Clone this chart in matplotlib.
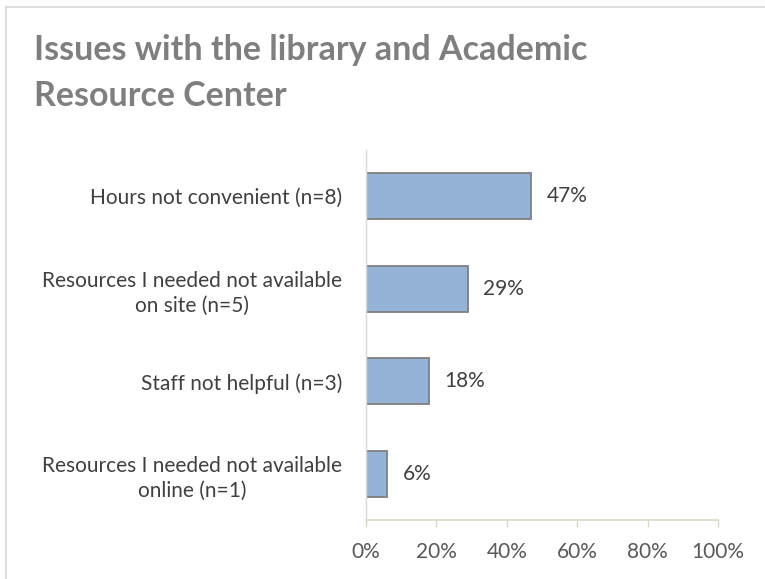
import matplotlib
matplotlib.use("Agg")
import matplotlib.pyplot as plt
from matplotlib.lines import Line2D

categories = [
    "Hours not convenient (n=8)",
    "Resources I needed not available\non site (n=5)",
    "Staff not helpful (n=3)",
    "Resources I needed not available\nonline (n=1)",
]
values = [0.47, 0.29, 0.18, 0.06]
value_labels = ["47%", "29%", "18%", "6%"]
xticks = [0, 0.2, 0.4, 0.6, 0.8, 1.0]
xtick_labels = ["0%", "20%", "40%", "60%", "80%", "100%"]
title_lines = ["Issues with the library and Academic", "Resource Center"]

FONT = "Lato"
plt.rcParams['font.family'] = [FONT, 'DejaVu Sans']

fig = plt.figure(figsize=(7.65, 5.79), dpi=100)
W, H = 765, 579
ax = fig.add_axes([366 / W, 1 - 520 / H, (718 - 366) / W, (520 - 150) / H])

ypos = list(range(len(categories)))
ax.barh(ypos, values, height=0.5, color="#95b3d7", edgecolor="#7f7f7f", linewidth=1.3)
ax.set_ylim(len(categories) - 0.5, -0.5)
ax.set_xlim(0, 1.0)

for y, v, lab in zip(ypos, values, value_labels):
    ax.annotate(lab, (v, y), xytext=(11, 0), textcoords="offset points",
                ha="left", va="center", fontsize=15, color="#404040")

ax.set_yticks(ypos)
ax.set_yticklabels(categories, fontsize=15, color="#404040", multialignment="center",
                   linespacing=1.35)
ax.tick_params(axis="y", length=0, pad=17)
ax.set_xticks(xticks)
ax.set_xticklabels(xtick_labels, fontsize=15, color="#595959")
ax.tick_params(axis="x", length=5, width=1, color="#d9d9c3", pad=11)

for s in ["top", "right"]:
    ax.spines[s].set_visible(False)
ax.spines["left"].set_color("#d9d9d9")
ax.spines["left"].set_linewidth(1)
ax.spines["bottom"].set_color("#d9d9c3")
ax.spines["bottom"].set_linewidth(1.2)

for line, base in zip(title_lines, [60, 106]):
    fig.text(34 / W, 1 - base / H, line, fontsize=24.5, fontweight="bold", color="#7f7f7f",
             ha="left", va="baseline")

# outer frame (top and left edges)
fig.add_artist(Line2D([5.5 / W, 1.0], [1 - 6.5 / H, 1 - 6.5 / H], transform=fig.transFigure,
                      color="#d9d9d9", linewidth=1.2))
fig.add_artist(Line2D([5.5 / W, 5.5 / W], [0, 1 - 6.5 / H], transform=fig.transFigure,
                      color="#d9d9d9", linewidth=1.2))

fig.savefig("out.png", dpi=100)
